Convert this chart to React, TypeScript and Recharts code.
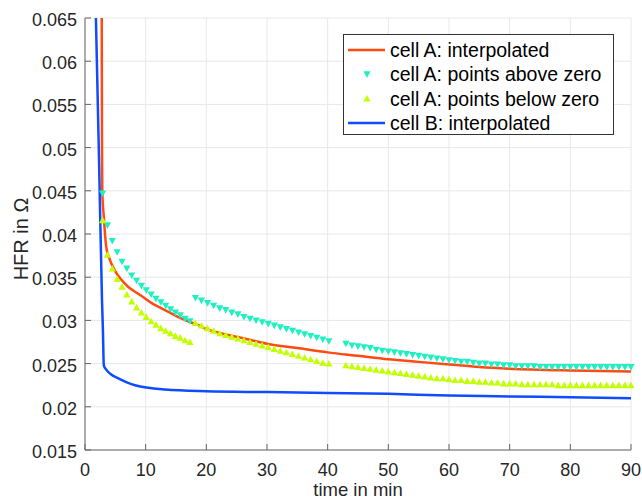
import React from "react";
import {
  CartesianGrid,
  ComposedChart,
  Legend,
  Line,
  Scatter,
  XAxis,
  YAxis,
} from "recharts";

const FONT = '"Liberation Sans", Arial, Helvetica, sans-serif';

const timeTicks = [0, 10, 20, 30, 40, 50, 60, 70, 80, 90];
const hfrTicks = [0.015, 0.02, 0.025, 0.03, 0.035, 0.04, 0.045, 0.05, 0.055, 0.06, 0.065];

// cell A, interpolated curve
const cellATime = [
  2.7, 2.76, 2.8, 2.85, 3.1, 3.5, 4.0, 4.9, 6.0, 7.1, 8.5, 9.8, 11, 12.6, 14, 15.3, 17,
  18.5, 20, 22.5, 25, 27.5, 30, 35, 40, 45, 50, 55, 60, 65, 70, 80, 90,
];
const cellAValue = [
  0.075, 0.065, 0.05, 0.045, 0.042, 0.0385, 0.0372, 0.0358, 0.0347, 0.0339, 0.0332,
  0.0326, 0.032, 0.0314, 0.0309, 0.0304, 0.0299, 0.0295, 0.029, 0.0285, 0.0281, 0.0277,
  0.0273, 0.0268, 0.0263, 0.0259, 0.0255, 0.0252, 0.0249, 0.0246, 0.0244, 0.0242, 0.0241,
];

// cell B, interpolated curve
const cellBTime = [
  1.7, 1.8, 2.3, 2.8, 2.95, 3.1, 3.5, 4.2, 5.5, 8.25, 13.2, 20, 30, 40, 50, 60, 70, 80, 90,
];
const cellBValue = [
  0.068, 0.065, 0.049, 0.0324, 0.029, 0.0248, 0.0243, 0.0238, 0.0233, 0.0225, 0.022,
  0.0218, 0.0217, 0.0216, 0.0215, 0.0213, 0.0212, 0.0211, 0.021,
];

// measurement times of cell A points
const pointTime = [
  2.9, 3.7, 4.5, 5.3, 6.1, 6.9, 7.7, 8.5, 9.3, 10.1, 10.9, 11.7, 12.5, 13.3, 14.1, 14.9,
  15.7, 16.5, 17.3,
  18.2, 19.2, 20.2, 21.2, 22.2, 23.2, 24.2, 25.2, 26.2, 27.2, 28.2, 29.2, 30.2, 31.2,
  32.2, 33.2, 34.2, 35.2, 36.2, 37.2, 38.2, 39.2, 40.2,
  43, 44, 45, 46, 47, 48, 49, 50, 51, 52, 53, 54, 55, 56, 57, 58, 59, 60, 61, 62, 63, 64,
  65, 66, 67, 68, 69, 70, 71, 72, 73, 74, 75, 76, 77, 78, 79, 80, 81, 82, 83, 84, 85, 86,
  87, 88, 89, 90,
];
const aboveZero = [
  0.0447, 0.041, 0.0392, 0.0379, 0.0368, 0.036, 0.0352, 0.0346, 0.034, 0.0335, 0.033,
  0.0325, 0.0321, 0.0317, 0.0313, 0.0309, 0.0306, 0.0302, 0.0299,
  0.0326, 0.0323, 0.032, 0.0317, 0.0314, 0.0312, 0.0309, 0.0307, 0.0304, 0.0302, 0.03,
  0.0298, 0.0296, 0.0294, 0.0292, 0.029, 0.0288, 0.0286, 0.0284, 0.0282, 0.028, 0.0278,
  0.0276,
  0.0273, 0.0271, 0.027, 0.0269, 0.0268, 0.0266, 0.0265, 0.0264, 0.0263, 0.0262, 0.0261,
  0.026, 0.0259, 0.0258, 0.0257, 0.0256, 0.0255, 0.0254, 0.0253, 0.0252, 0.0252, 0.0251,
  0.025, 0.025, 0.0249, 0.0249, 0.0248, 0.0248, 0.0247, 0.0247, 0.0247, 0.0247, 0.0246,
  0.0246, 0.0246, 0.0246, 0.0246, 0.0246, 0.0246, 0.0246, 0.0246, 0.0246, 0.0246, 0.0246,
  0.0246, 0.0246, 0.0246, 0.0246,
];
const belowZero = [
  0.0416, 0.0376, 0.036, 0.0348, 0.0339, 0.033, 0.0322, 0.0315, 0.0309, 0.0304, 0.0299,
  0.0295, 0.0291, 0.0288, 0.0285, 0.0282, 0.028, 0.0277, 0.0275,
  0.0297, 0.0294, 0.0291, 0.0288, 0.0285, 0.0283, 0.0281, 0.0279, 0.0277, 0.0275, 0.0273,
  0.0271, 0.0269, 0.0267, 0.0265, 0.0263, 0.0261, 0.0259, 0.0257, 0.0255, 0.0253, 0.0251,
  0.025,
  0.0248, 0.0247, 0.0246, 0.0245, 0.0244, 0.0243, 0.0242, 0.0241, 0.024, 0.0239, 0.0238,
  0.0237, 0.0236, 0.0235, 0.0234, 0.0233, 0.0233, 0.0232, 0.0231, 0.0231, 0.023, 0.023,
  0.0229, 0.0229, 0.0228, 0.0228, 0.0227, 0.0227, 0.0227, 0.0226, 0.0226, 0.0226, 0.0226,
  0.0226, 0.0226, 0.0225, 0.0225, 0.0225, 0.0225, 0.0225, 0.0225, 0.0225, 0.0225, 0.0225,
  0.0225, 0.0225, 0.0225, 0.0225,
];

const RED = "#ff4a12";
const BLUE = "#0f4bff";
const CYAN = "#1ef0c2";
const LIME = "#c2ff00";

const legendItems = [
  { name: "cell A: interpolated", kind: "line", color: RED },
  { name: "cell A: points above zero", kind: "down", color: CYAN },
  { name: "cell A: points below zero", kind: "up", color: LIME },
  { name: "cell B: interpolated", kind: "line", color: BLUE },
];

const rows = (t: number[], v: number[]) => t.map((x, i) => ({ t: x, v: v[i] }));

const cellA = rows(cellATime, cellAValue);
const cellB = rows(cellBTime, cellBValue);
const above = rows(pointTime, aboveZero);
const below = rows(pointTime, belowZero);

const downTri = (cx: number, cy: number) =>
  `M${cx - 3.6},${cy - 3} L${cx + 3.6},${cy - 3} L${cx},${cy + 3.6} Z`;
const upTri = (cx: number, cy: number) =>
  `M${cx - 3.6},${cy + 3} L${cx + 3.6},${cy + 3} L${cx},${cy - 3.6} Z`;

const DownMarker = (props: any) => <path d={downTri(props.cx, props.cy)} fill={CYAN} />;
const UpMarker = (props: any) => <path d={upTri(props.cx, props.cy)} fill={LIME} />;

const XTick = ({ x, y, payload }: any) => (
  <g>
    <line x1={x} x2={x} y1={y} y2={y - 6} stroke="#666" />
    <text x={x} y={y + 26} textAnchor="middle" fill="#262626" fontSize={18} fontFamily={FONT}>
      {payload.value}
    </text>
  </g>
);

const YTick = ({ x, y, payload }: any) => (
  <g>
    <line x1={x} x2={x + 6} y1={y} y2={y} stroke="#666" />
    <text x={x - 8} y={y + 8} textAnchor="end" fill="#262626" fontSize={18} fontFamily={FONT}>
      {Number(payload.value.toFixed(3)).toString()}
    </text>
  </g>
);

const LegendBox = () => (
  <svg width={271} height={101} style={{ display: "block" }}>
    <rect x={0.5} y={0.5} width={270} height={100} fill="#fff" stroke="#333" />
    {legendItems.map((item, i) => {
      const cy = 16 + i * 24.3;
      return (
        <g key={item.name}>
          {item.kind === "line" && (
            <line x1={5} x2={42} y1={cy} y2={cy} stroke={item.color} strokeWidth={2.5} />
          )}
          {item.kind === "down" && <path d={downTri(24, cy)} fill={item.color} />}
          {item.kind === "up" && <path d={upTri(24, cy)} fill={item.color} />}
          <text x={47} y={cy + 7} fontSize={19.5} fontFamily={FONT} fill="#000">
            {item.name}
          </text>
        </g>
      );
    })}
  </svg>
);

export default function App() {
  return (
    <div style={{ position: "absolute", left: 0, top: 0, background: "#fff" }}>
      <ComposedChart
        width={642}
        height={501}
        margin={{ top: 18, right: 11, bottom: 0, left: 0 }}
      >
        <CartesianGrid stroke="#e8e8e8" />
        <XAxis
          dataKey="t"
          type="number"
          domain={[0, 90]}
          ticks={timeTicks}
          height={51}
          tickSize={0}
          tickMargin={0}
          tickLine={false}
          axisLine={{ stroke: "#666" }}
          tick={<XTick />}
          label={{
            value: "time in min",
            position: "insideBottom",
            offset: 5,
            fill: "#262626",
            fontSize: 18.5,
            fontFamily: FONT,
          }}
        />
        <YAxis
          type="number"
          domain={[0.015, 0.065]}
          ticks={hfrTicks}
          allowDataOverflow
          width={85}
          tickSize={0}
          tickMargin={0}
          tickLine={false}
          axisLine={{ stroke: "#666" }}
          tick={<YTick />}
          label={{
            value: "HFR in Ω",
            angle: -90,
            position: "insideLeft",
            offset: 21,
            dy: 5,
            fill: "#262626",
            fontSize: 20,
            fontFamily: FONT,
            style: { textAnchor: "middle" },
          }}
        />
        <Line
          data={cellA}
          dataKey="v"
          type="monotone"
          stroke={RED}
          strokeWidth={2.5}
          dot={false}
          isAnimationActive={false}
          name="cell A: interpolated"
        />
        <Scatter
          data={above}
          dataKey="v"
          shape={<DownMarker />}
          isAnimationActive={false}
          name="cell A: points above zero"
        />
        <Scatter
          data={below}
          dataKey="v"
          shape={<UpMarker />}
          isAnimationActive={false}
          name="cell A: points below zero"
        />
        <Line
          data={cellB}
          dataKey="v"
          type="monotone"
          stroke={BLUE}
          strokeWidth={2.5}
          dot={false}
          isAnimationActive={false}
          name="cell B: interpolated"
        />
        <Legend
          layout="horizontal"
          verticalAlign="middle"
          align="center"
          content={() => <LegendBox />}
          wrapperStyle={{ left: 343, top: 34, width: 271, height: 101 }}
        />
      </ComposedChart>
    </div>
  );
}
